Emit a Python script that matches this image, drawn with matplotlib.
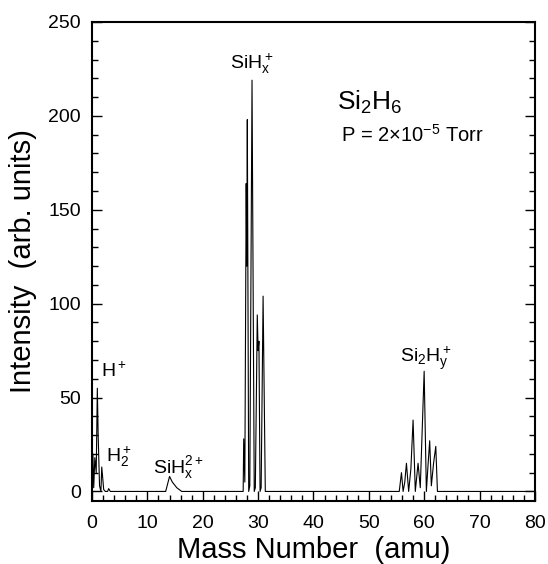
import matplotlib
matplotlib.use("Agg")
import matplotlib.pyplot as plt
from matplotlib.ticker import MultipleLocator
import numpy as np

plt.rcParams['font.family'] = ['Liberation Sans', 'DejaVu Sans']
plt.rcParams['mathtext.default'] = 'regular'

# spectrum, region by region (mass in amu, intensity in arb. units)
mass_h = [0.0, 0.15, 0.3, 0.5, 0.75, 0.95, 1.1, 1.35, 1.6, 1.75, 1.9, 2.1, 2.4, 2.8, 3.0, 3.3]
int_h = [0, 20, 2, 18, 10, 55, 30, 3, 0, 13, 8, 1, 0, 0, 1.5, 0]

mass_sih2 = [13.3, 14.0, 14.5, 15.3, 16.2]
int_sih2 = [0, 8, 5, 2, 0]

mass_sih = [27.3, 27.4, 27.6, 27.85, 27.95, 28.05, 28.3, 28.5, 28.9, 29.3, 29.5, 29.85, 30.0, 30.15,
            30.35, 30.55, 30.9, 31.3]
int_sih = [0, 28, 5, 164, 120, 198, 0, 3, 219, 0, 2, 94, 75, 80, 0, 2, 104, 0]

mass_si2h = [55.5, 55.9, 56.2, 56.5, 56.8, 57.2, 57.6, 58.0, 58.4, 58.9, 59.3, 60.0, 60.4, 60.7,
             61.0, 61.3, 61.7, 62.1, 62.4, 80.0]
int_si2h = [0, 10, 0, 5, 15, 0, 12, 38, 0, 15, 2, 64, 0, 14, 27, 3, 15, 24, 0, 0]

mass = np.concatenate([mass_h, mass_sih2, mass_sih, mass_si2h])
intensity = np.concatenate([int_h, int_sih2, int_sih, int_si2h])

fig = plt.figure(figsize=(5.48, 5.64), dpi=100)
ax = fig.add_axes([0.168, 0.112, 0.808, 0.849])

ax.plot(mass, intensity, color='black', lw=0.8)

ax.set_xlim(0, 80)
ax.set_ylim(-5, 250)
ax.xaxis.set_major_locator(MultipleLocator(10))
ax.xaxis.set_minor_locator(MultipleLocator(2))
ax.yaxis.set_major_locator(MultipleLocator(50))
ax.yaxis.set_minor_locator(MultipleLocator(10))
ax.tick_params(which='both', direction='in', top=False, right=True, width=1, labelsize=14, pad=8)
ax.tick_params(axis='x', which='both', pad=10)
ax.tick_params(which='major', length=7)
ax.tick_params(which='minor', length=4)
for s in ax.spines.values():
    s.set_linewidth(1.5)

ax.set_xlabel('Mass Number  (amu)', fontsize=21, labelpad=3)
ax.set_ylabel('Intensity  (arb. units)', fontsize=21, labelpad=8)

# peak labels
ax.text(1.6, 61, 'H$^+$', fontsize=14, ha='left', va='baseline')
ax.text(2.5, 16, 'H$_2^+$', fontsize=14, ha='left', va='baseline')
ax.text(11.0, 10, 'SiH$_x^{2+}$', fontsize=14, ha='left', va='baseline')
ax.text(25.0, 225, 'SiH$_x^+$', fontsize=14, ha='left', va='baseline')
ax.text(55.7, 69, 'Si$_2$H$_y^+$', fontsize=14, ha='left', va='baseline')
ax.text(44.2, 203, 'Si$_2$H$_6$', fontsize=19, ha='left', va='baseline')
ax.text(45.0, 186, 'P = 2$\\times$10$^{-5}$ Torr', fontsize=14.5, ha='left', va='baseline')

fig.savefig('out.png', dpi=100)
